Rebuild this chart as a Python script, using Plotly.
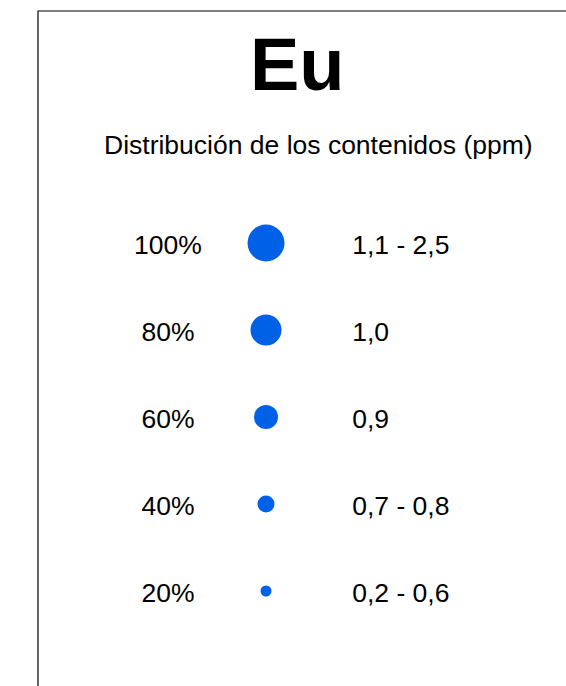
import plotly.graph_objects as go

# ---- data ----
percent_labels = ["100%", "80%", "60%", "40%", "20%"]
marker_sizes = [37, 31, 24, 17, 11]
range_labels = ["1,1 - 2,5", "1,0", "0,9", "0,7 - 0,8", "0,2 - 0,6"]
title_text = "Eu"
subtitle_text = "Distribución de los contenidos (ppm)"

# ---- layout constants ----
W, H = 566, 686
FONT = "Arial, 'Liberation Sans', sans-serif"
BLUE = "#0060e6"
COL_PCT, COL_DOT, COL_RNG = 0.0, 1.0, 1.88
PX_PER_UNIT_X = 98.0
x0 = COL_PCT - 168.0 / PX_PER_UNIT_X
x1 = x0 + W / PX_PER_UNIT_X
ROW_PX = 87.0
y_top = 0 - 243.0 / ROW_PX
y_bot = y_top + H / ROW_PX
shift = 4.0 / ROW_PX


def px(xp):
    return xp / W


def py(yp):
    return 1 - yp / H


fig = go.Figure()
fig.add_trace(go.Scatter(
    x=[COL_PCT] * len(percent_labels), y=percent_labels, mode="text",
    text=percent_labels, textposition="middle center",
    textfont=dict(family=FONT, size=26.5, color="black"), yaxis="y2",
    hoverinfo="skip", showlegend=False))
fig.add_trace(go.Scatter(
    x=[COL_DOT] * len(percent_labels), y=percent_labels, mode="markers",
    marker=dict(size=marker_sizes, color=BLUE, opacity=1, line=dict(width=0)),
    hoverinfo="skip", showlegend=False))
fig.add_trace(go.Scatter(
    x=[COL_RNG] * len(range_labels), y=percent_labels, mode="text",
    text=range_labels, textposition="middle right",
    textfont=dict(family=FONT, size=26.5, color="black"), yaxis="y2",
    hoverinfo="skip", showlegend=False))

fig.update_layout(
    width=W, height=H, autosize=False,
    margin=dict(l=0, r=0, t=0, b=0, pad=0),
    paper_bgcolor="white", plot_bgcolor="white",
    xaxis=dict(range=[x0, x1], visible=False, fixedrange=True),
    yaxis=dict(type="category", categoryarray=percent_labels,
               range=[y_bot, y_top], visible=False, fixedrange=True),
    yaxis2=dict(type="category", categoryarray=percent_labels, overlaying="y",
                range=[y_bot - shift, y_top - shift], visible=False, fixedrange=True),
    shapes=[dict(type="rect", xref="paper", yref="paper",
                 x0=px(38.0), x1=1.1, y0=-0.1, y1=py(11.0),
                 line=dict(color="black", width=1.2), fillcolor="rgba(0,0,0,0)")],
    annotations=[
        dict(text="<b>" + title_text + "</b>", xref="paper", yref="paper",
             x=px(297.0), y=py(64.0), xanchor="center", yanchor="middle",
             showarrow=False, font=dict(family=FONT, size=74, color="black")),
        dict(text=subtitle_text, xref="paper", yref="paper",
             x=px(318.0), y=py(145.0), xanchor="center", yanchor="middle",
             showarrow=False, font=dict(family=FONT, size=26.5, color="black")),
    ],
)

post_js = (
    "document.documentElement.style.margin='0';"
    "document.body.style.margin='0';"
    "document.body.style.overflow='hidden';"
    "var gd=document.getElementById('{plot_id}');"
    "Plotly.relayout(gd,{width:%d,height:%d});" % (W, H)
)
fig.write_html("out.html", post_script=post_js,
               config={"responsive": False, "displayModeBar": False})
